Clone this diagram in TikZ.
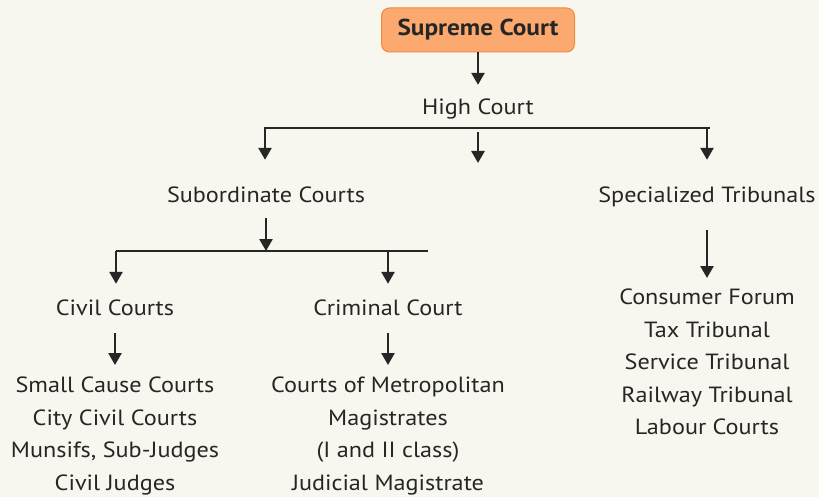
\documentclass[tikz,border=0pt]{standalone}
\usepackage{fontspec}
\setmainfont{PT Sans}[FakeStretch=1.1]
\usepackage{xcolor}
\usetikzlibrary{arrows.meta,positioning}

\definecolor{paper}{HTML}{F7F6EF}
\definecolor{ink}{HTML}{262626}
\definecolor{boxfill}{HTML}{FBA96F}
\definecolor{boxline}{HTML}{F28B3D}

\tikzset{
  court/.style={inner sep=0pt, text height=16pt, text depth=5pt, anchor=base, text=ink,
    font=\fontsize{22}{32}\selectfont},
  courtlist/.style={inner sep=0pt, anchor=north, align=center, text=ink,
    font=\fontsize{22}{32.4}\selectfont},
  link/.style={ink, line width=2.6pt},
  arr/.style={link, -{Triangle[width=13pt,length=12pt]}}
}

\begin{document}
\begin{tikzpicture}[x=1pt,y=-1pt]
\useasboundingbox (0,0) rectangle (819,497);
\fill[paper] (0,0) rectangle (819,497);

% top of the tree
\node[draw=boxline, fill=boxfill, line width=1pt, rounded corners=8pt,
  minimum width=193pt, minimum height=44pt, text=ink,
  font=\fontsize{23}{26}\selectfont\bfseries] (supreme) at (478,30) {Supreme Court};
\node[court] (high) at (478,115) {High Court};
\draw[arr, shorten >=14pt] (supreme.south) -- (high.north);

% high court branches
\node[court] (sub) at (266,203) {Subordinate Courts};
\node[court] (spec) at (707,203) {Specialized Tribunals};
\coordinate (hcL) at (265,128);
\coordinate (hcM) at (478,128);
\coordinate (hcR) at (709,128);
\draw[link, line cap=rect] (hcL) -- (hcR);
\draw[arr, shorten >=27pt] (hcL) -- (hcL |- sub.north);
\draw[arr, shorten >=27pt] (hcR -| spec.north) -- (spec.north);
\draw[arr] ([yshift=-4pt]hcM) -- ++(0,31);

% subordinate courts branches
\node[court] (civil) at (115,315) {Civil Courts};
\node[court] (crim) at (388,315) {Criminal Court};
\coordinate (scL) at (116,251);
\coordinate (scM) at (266,251);
\coordinate (scR) at (428,251);
\draw[link] (scL) -- (scR);
\draw[arr, shorten <=10pt] (sub.south) -- (scM);
\draw[arr, shorten >=15pt] (scL) -- (scL |- civil.north);
\draw[arr, shorten >=15pt] (scL -| crim.north) -- (crim.north);

% lists
\node[courtlist] (civlist) at (115,377) {Small Cause Courts\\City Civil Courts\\Munsifs, Sub-Judges\\Civil Judges};
\node[courtlist] (crimlist) at (388,377) {Courts of Metropolitan\\Magistrates\\(I and II class)\\Judicial Magistrate};
\node[courtlist] (speclist) at (707,289) {Consumer Forum\\Tax Tribunal\\Service Tribunal\\Railway Tribunal\\Labour Courts};
\draw[arr, shorten <=13pt, shorten >=12pt] (civil.south) -- (civlist.north);
\draw[arr, shorten <=13pt, shorten >=12pt] (crim.south) -- (crimlist.north);
\draw[arr, shorten <=22pt, shorten >=11pt] (spec.south) -- (speclist.north);
\end{tikzpicture}
\end{document}
